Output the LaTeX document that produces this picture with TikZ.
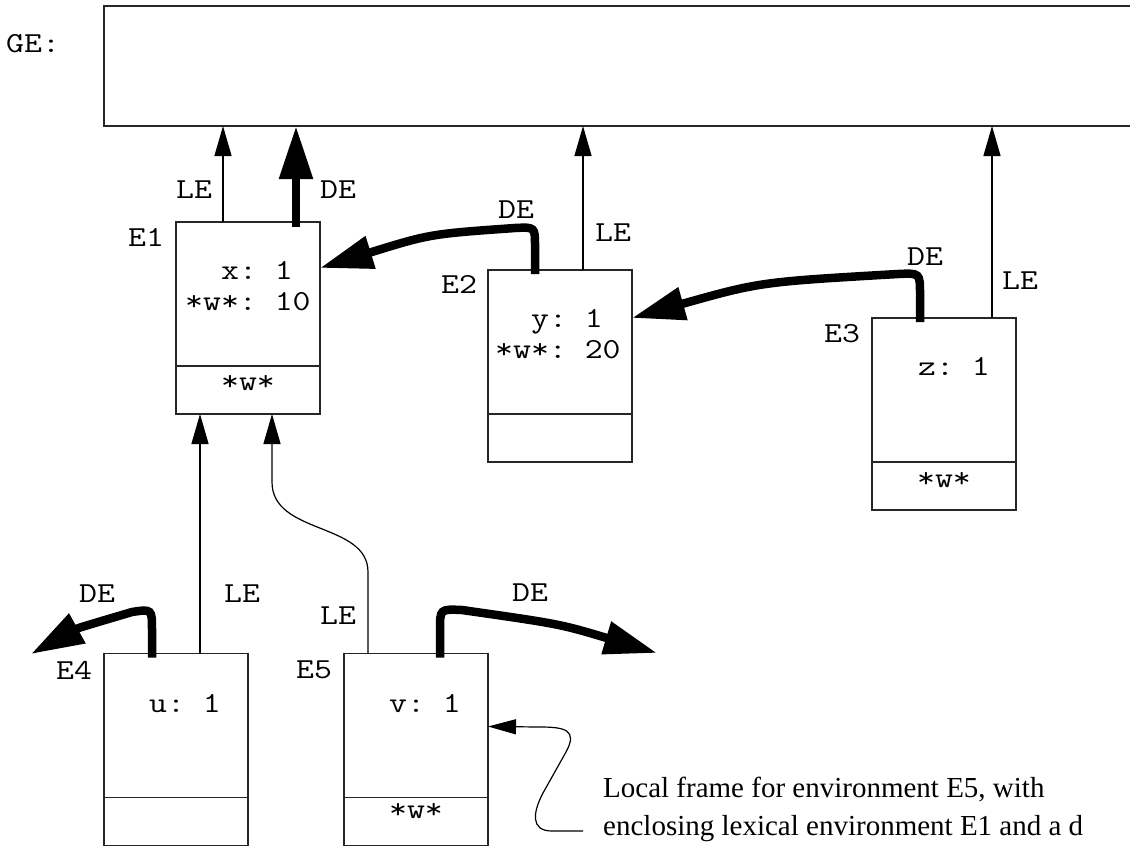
\documentclass[tikz,border=0pt]{standalone}
\usepackage{fontspec}
\setmainfont{Liberation Serif}
\setmonofont{Latin Modern Mono}[FakeStretch=1.2]
\usetikzlibrary{arrows.meta,calc}
\begin{document}
\begin{tikzpicture}[x=1pt,y=-1pt,
  frame/.style={draw=black!85,line width=1.4pt,minimum width=144pt,minimum height=192pt,inner sep=0pt,outer sep=0pt},
  mono/.style={font=\ttfamily\fontsize{29}{34}\selectfont,inner sep=0pt,text=black},
  serif/.style={font=\fontsize{29}{38}\selectfont,inner sep=0pt,text=black},
  le/.style={draw=black,line width=1.3pt,-{Triangle[length=30pt,width=17pt]}},
  lecurve/.style={draw=black,line width=1.2pt,-{Triangle[length=30pt,width=17pt]}},
  note/.style={draw=black,line width=1.2pt,-{Triangle[length=28pt,width=15pt]}},
  de/.style={draw=black,line width=8.5pt,-{Triangle[length=53pt,width=32pt]}},
  divider/.style={draw=black!85,line width=1.4pt}]
\useasboundingbox (0,0) rectangle (1130,846);
\clip (0,0) rectangle (1130,846);
\fill[white] (0,0) rectangle (1130,846);

% global environment
\node[frame,minimum width=1060pt,minimum height=120pt] (ge) at (634,66) {};
\node[mono,anchor=base west] (gelab) at (6,52) {GE:};

% frames
\node[frame] (e1) at (248,318) {};
\node[frame] (e2) at (560,366) {};
\node[frame] (e3) at (944,414) {};
\node[frame] (e4) at (176,749.5) {};
\node[frame] (e5) at (416,749.5) {};

\foreach \f in {e1,e2,e3,e4,e5}
  \draw[divider] ($(\f.south west)+(0,-48)$) -- ($(\f.south east)+(0,-48)$);

% frame labels
\node[mono,anchor=base west] (e1lab) at (128,246) {E1};
\node[mono,anchor=base west] (e2lab) at (441,293) {E2};
\node[mono,anchor=base west] (e3lab) at (824,342) {E3};
\node[mono,anchor=base west] (e4lab) at (56,679) {E4};
\node[mono,anchor=base west] (e5lab) at (296,678) {E5};

% bindings
\node[mono,anchor=base west] (b1a) at (221,279) {x: 1};
\node[mono,anchor=base west] (b1b) at (185,310) {*w*: 10};
\node[mono,anchor=base] (f1) at (248,390) {*w*};
\node[mono,anchor=base west] (b2a) at (531,327) {y: 1};
\node[mono,anchor=base west] (b2b) at (495,358) {*w*: 20};
\node[mono,anchor=base west] (b3a) at (918,375) {z: 1};
\node[mono,anchor=base] (f3) at (944,487) {*w*};
\node[mono,anchor=base west] (b4a) at (149,712) {u: 1};
\node[mono,anchor=base west] (b5a) at (389,712) {v: 1};
\node[mono,anchor=base] (f5) at (416,818) {*w*};

% arrow labels
\node[mono,anchor=base west] (l1le) at (176,198) {LE};
\node[mono,anchor=base west] (l1de) at (320,198) {DE};
\node[mono,anchor=base west] (l2le) at (595,241) {LE};
\node[mono,anchor=base west] (l2de) at (498,218) {DE};
\node[mono,anchor=base west] (l3de) at (907,265) {DE};
\node[mono,anchor=base west] (l3le) at (1002,289) {LE};
\node[mono,anchor=base west] (l4de) at (79,602) {DE};
\node[mono,anchor=base west] (l4le) at (224,602) {LE};
\node[mono,anchor=base west] (l5le) at (320,624) {LE};
\node[mono,anchor=base west] (l5de) at (512,601) {DE};

% lexical environment links
\coordinate (e1le) at ($(e1.north west)+(47,0)$);
\draw[le] (e1le) -- (e1le |- ge.south);
\coordinate (e2le) at ($(e2.north west)+(95,0)$);
\draw[le] (e2le) -- (e2le |- ge.south);
\coordinate (e3le) at ($(e3.north west)+(120,0)$);
\draw[le] (e3le) -- (e3le |- ge.south);
\coordinate (e4le) at ($(e4.north west)+(96,0)$);
\draw[le] (e4le) -- (e4le |- e1.south);
\coordinate (e5le) at ($(e5.north west)+(24,0)$);
\coordinate (e5tgt) at ($(e1.south west)+(96,0)$);
\draw[lecurve] (e5le) -- (368,572) .. controls (368,522) and (272,535) .. (272,482) -- (e5tgt);

% dynamic environment links
\coordinate (e1de) at ($(e1.north west)+(120,5)$);
\draw[de] (e1de) -- (e1de |- ge.south);
\coordinate (e2de) at ($(e2.north west)+(47,4)$);
\coordinate (e1in) at ($(e1.north east)+(0,46)$);
\draw[de] (e2de) -- (535,246) .. controls (535,227) .. (515,228) .. controls (430,234) .. (e1in);
\coordinate (e3de) at ($(e3.north west)+(48,4)$);
\coordinate (e2in) at ($(e2.north east)+(0,48)$);
\draw[de] (e3de) -- (920,294) .. controls (920,273) .. (898,274) .. controls (760,282) .. (e2in);
\coordinate (e4de) at ($(e4.north west)+(48,4)$);
\coordinate (e4tip) at (31,654);
\draw[de] (e4de) -- (152,630) .. controls (152,609) .. (132,612) .. controls (78,628) .. (e4tip);
\coordinate (e5de) at ($(e5.north west)+(96,4)$);
\coordinate (e5tip) at (657,653);
\draw[de] (e5de) -- (440,630) .. controls (440,609) .. (462,610) .. controls (560,624) .. (e5tip);

% annotation
\node[serif,anchor=base west] (note1) at (603,797) {Local frame for environment E5, with};
\node[serif,anchor=base west] (note2) at (603,835) {enclosing lexical environment E1 and a d};
\coordinate (nstart) at (583,831);
\draw[note] (nstart) -- (552,831) .. controls (530,831) and (533,812) .. (543,793) -- (566,752) .. controls (578,730) and (565,727) .. (540,727) -- ($(e5.north east)+(0,73)$);
\end{tikzpicture}
\end{document}
